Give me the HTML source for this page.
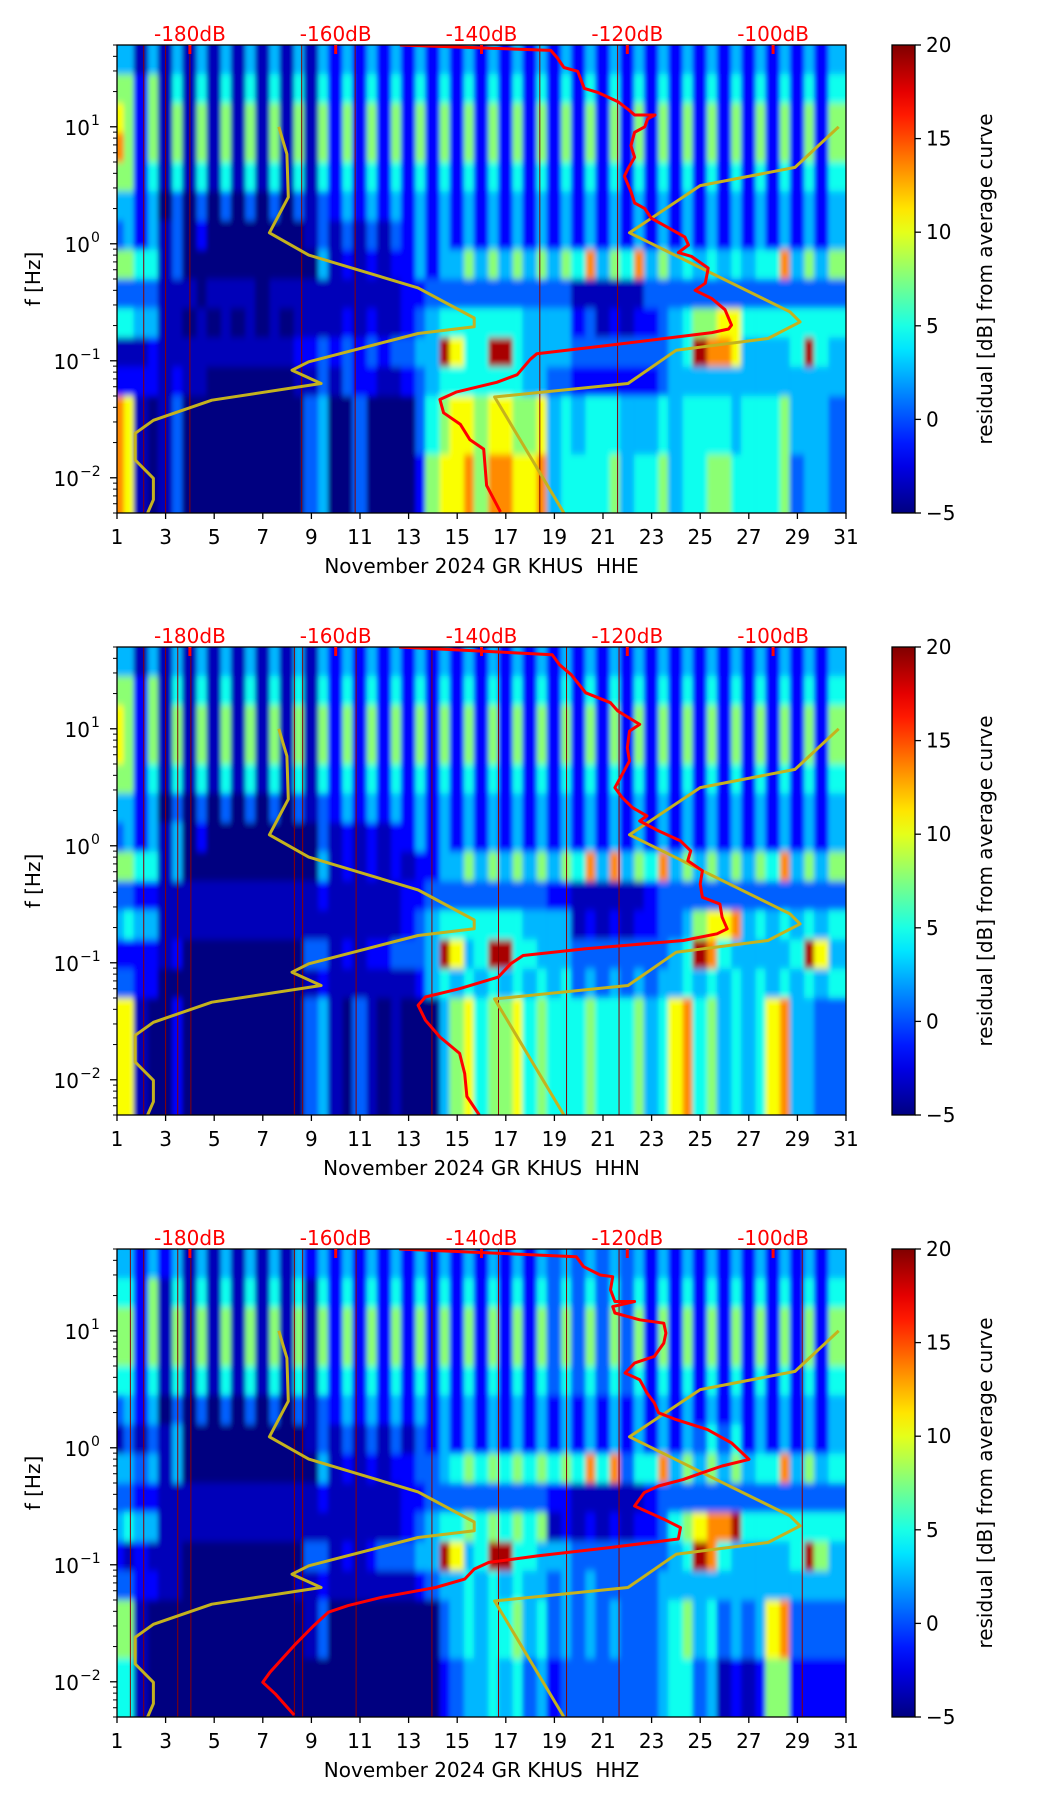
<!DOCTYPE html>
<html><head><meta charset="utf-8"><style>
html,body{margin:0;padding:0;background:#fff;}
svg{display:block;font-family:"DejaVu Sans","Liberation Sans",sans-serif;}
</style></head>
<body>
<svg id="fig" width="1052" height="1806" viewBox="0 0 1052 1806" xmlns="http://www.w3.org/2000/svg">
<defs>
<filter id="soft" x="-5%" y="-5%" width="110%" height="110%"><feGaussianBlur stdDeviation="2 3.5"/></filter>
<linearGradient id="jetgrad" x1="0" y1="1" x2="0" y2="0"></linearGradient>
</defs>
</svg>
<script>
// ---- shared reference curves (Peterson low / high noise model) ----
const nlnmFreq=[10,5.85,2.5,1.24,0.80,0.42,0.232,0.195,0.171,0.098,0.083,0.064,0.046,0.031,0.024,0.0142,0.0099,0.0065,0.005];
const nlnmDb=[-167.8,-166.7,-166.5,-169.1,-163.7,-148.7,-141,-141,-148.7,-163.7,-166,-162,-177,-185,-187.5,-187.5,-185,-185,-185.8];
const nhnmFreq=[10,4.5,3.14,1.24,0.262,0.215,0.155,0.123,0.064,0.049,0.005];
const nhnmDb=[-91,-97,-110,-119.7,-97.7,-96.3,-100.7,-113.3,-119.9,-138.2,-128.7];
// ---- red median PSD per channel ----
const hheFreq=[50,45,38.8,32.1,29.8,21.3,19.7,16.4,14.1,12.6,12.6,11.7,10,8.97,6.89,5.5,4.39,3.78,2.8,2.23,2.0,1.65,1.32,1.14,0.977,0.84,0.78,0.62,0.46,0.40,0.34,0.273,0.202,0.187,0.174,0.134,0.115,0.103,0.076,0.0655,0.0542,0.0467,0.0359,0.0286,0.0212,0.0176,0.0086,0.0051];
const hheDb=[-151.2,-130.5,-129.6,-128.7,-126.8,-125.9,-124.1,-121.3,-119.9,-119,-116.2,-117.2,-117.6,-119,-119.5,-119,-119.9,-120.4,-119.5,-119,-117.6,-116.7,-113.9,-112.1,-111.6,-113,-111.2,-108.9,-109.3,-110.7,-108.4,-106.6,-105.7,-106.1,-108.4,-123.2,-132.4,-133.3,-135.1,-137.9,-143.4,-145.7,-145.2,-142.9,-141.6,-139.7,-139.3,-137.4];
const hhnFreq=[50,43,35.3,29,20.3,16.7,14.2,10.9,9.55,6.89,5.3,4.08,3.14,2.58,2.12,1.8,1.63,1.34,1.10,0.906,0.745,0.612,0.471,0.363,0.318,0.245,0.195,0.177,0.155,0.132,0.1155,0.098,0.0755,0.060,0.051,0.0433,0.0323,0.0232,0.0168,0.0113,0.0072,0.005];
const hhnDb=[-151.3,-130.3,-129.3,-127.7,-125.7,-122.3,-121.3,-118.3,-119.7,-120,-119.7,-120.7,-121.7,-120.7,-119.3,-117.3,-118.3,-115.7,-112.7,-111.3,-111.7,-109.7,-110,-109.7,-107.3,-107,-106.3,-107.7,-112.3,-125.7,-134.3,-136,-137.7,-143,-147.7,-148.7,-147.7,-145.7,-143,-142.3,-142,-140.3];
const hhzFreq=[50,43,35.3,30,29,22.4,17.8,17.8,16.1,14.2,12.4,11.6,9.55,7.85,6.04,5.3,4.36,3.82,2.94,2.42,1.99,1.74,1.43,1.10,0.796,0.698,0.612,0.537,0.471,0.413,0.318,0.279,0.245,0.208,0.166,0.1405,0.119,0.1047,0.0918,0.0755,0.064,0.0527,0.0448,0.0393,0.0302,0.0204,0.0121,0.0099,0.0079,0.0052];
const hhzDb=[-151.3,-127,-126,-123.7,-122,-122.3,-121.7,-119,-122,-121.7,-118.3,-115,-114.7,-115,-116.3,-119,-120.3,-118.3,-117.3,-116.3,-115.7,-113.3,-109,-105.7,-103.3,-107,-109.7,-112.3,-115.7,-117.7,-119,-117,-115,-112.7,-113,-122.3,-132.3,-139,-141,-142.3,-146.3,-153.7,-158.3,-161,-163,-165.7,-169,-170,-168.3,-165.7];
// ---- data-gap days (thin dark red lines) ----
const gapsHHE=[2.1,3.0,4.0,8.6,10.8,18.4,21.6];
const gapsHHN=[2.1,3.0,3.5,4.04,8.3,8.64,10.84,13.96,16.7,19.5,21.66];
const gapsHHZ=[1.55,2.1,3.5,4.04,8.3,8.64,10.84,13.96,16.7,19.5,21.66,29.2];
// ---- residual heatmaps: 16 quarter-decade bands (50 Hz -> 0.005 Hz), 60 columns (night, day per date); digit = level 0..9 ----
const hmHHE=[
"44 14 14 14 14 14 14 14 14 24 24 24 24 24 24 24 24 24 24 24 24 24 24 24 24 24 24 24 24 24",
"66 26 15 15 15 15 15 15 15 25 25 25 25 25 25 25 25 25 25 25 25 25 25 25 25 25 25 25 25 25",
"76 26 16 16 16 16 16 16 16 26 26 26 26 26 26 26 26 26 26 26 26 26 26 26 26 26 26 26 26 26",
"86 26 16 16 16 16 16 16 16 26 26 26 26 26 26 26 26 26 26 26 26 26 26 26 26 26 26 26 26 26",
"66 25 15 15 15 15 15 15 15 25 25 25 25 25 25 25 25 25 25 25 25 25 25 25 25 25 25 25 25 25",
"44 24 03 03 03 03 03 03 13 24 24 24 24 24 24 24 24 24 24 24 24 24 24 24 24 24 24 24 24 24",
"34 24 13 02 00 00 00 00 13 13 13 13 24 24 24 24 24 24 24 24 24 24 24 24 24 24 24 24 24 24",
"66 55 13 00 00 00 00 00 04 12 12 12 24 24 46 46 46 46 46 58 46 58 46 45 45 45 45 58 46 46",
"33 33 11 10 11 11 01 11 11 11 11 11 22 33 33 33 33 33 33 11 11 11 33 33 33 33 33 33 33 33",
"55 44 11 01 01 01 01 01 11 12 12 11 23 45 55 55 55 44 44 23 12 12 23 45 66 77 55 55 55 55",
"11 12 11 11 11 11 11 12 23 23 23 23 34 49 75 59 95 44 44 33 33 33 33 45 98 87 44 44 59 54",
"22 22 12 11 00 00 00 01 13 13 22 11 23 45 55 55 55 44 33 22 22 22 23 44 44 44 44 44 44 44",
"87 10 13 00 00 00 00 00 34 00 30 00 03 56 77 67 76 67 45 45 55 44 45 45 55 54 55 56 44 43",
"87 10 13 00 00 00 00 00 34 00 30 00 03 56 77 67 76 67 45 45 55 44 45 45 55 54 55 56 44 43",
"87 10 13 00 00 00 00 00 34 00 30 00 02 67 78 68 87 78 45 55 56 45 56 45 56 65 55 56 34 43",
"87 10 13 00 00 00 00 00 34 00 30 00 02 67 78 68 87 78 45 55 56 45 56 45 56 65 55 56 34 43"];
const hmHHN=[
"44 14 14 14 14 14 14 14 14 24 24 24 24 24 24 24 24 24 24 24 24 24 24 24 24 24 24 24 24 24",
"66 26 15 15 15 15 15 15 15 25 25 25 25 25 25 25 25 25 25 25 25 25 25 25 25 25 25 25 25 25",
"76 26 16 16 16 16 16 16 16 26 26 26 26 26 26 26 26 26 26 26 26 26 26 26 26 26 26 26 26 26",
"76 26 16 16 16 16 16 16 16 26 26 26 26 26 26 26 26 26 26 26 26 26 26 26 26 26 26 26 26 26",
"66 25 15 15 15 15 15 15 15 25 25 25 25 25 25 25 25 25 25 25 25 25 25 25 25 25 25 25 25 25",
"44 24 03 03 03 03 03 03 13 24 24 24 24 24 24 24 24 24 24 24 24 24 24 24 24 24 24 24 24 24",
"34 24 14 02 00 00 00 00 03 12 12 12 24 24 24 24 24 24 24 24 24 24 24 24 24 24 24 24 24 24",
"66 55 14 00 00 00 00 00 04 12 12 12 12 24 46 46 46 46 46 58 48 46 58 46 46 46 46 58 46 46",
"33 22 11 11 11 11 11 11 12 11 11 11 22 33 33 33 33 33 22 11 11 11 23 33 33 33 33 33 33 33",
"45 44 11 11 11 11 11 11 11 11 11 11 23 45 55 55 55 44 44 12 12 12 23 34 67 78 45 45 45 45",
"22 22 12 00 00 00 00 00 33 12 12 23 33 49 74 59 95 54 44 33 33 33 33 45 98 54 44 44 59 74",
"33 22 00 00 00 00 00 00 12 11 11 11 12 45 45 45 45 45 45 34 34 34 34 45 45 45 45 45 45 45",
"77 10 02 00 00 00 00 00 34 10 31 01 00 04 67 56 67 56 55 56 55 56 45 78 56 45 45 78 44 33",
"77 10 02 00 00 00 00 00 34 10 31 01 00 04 67 56 67 56 55 56 55 56 45 78 56 45 45 78 44 33",
"77 10 02 00 00 00 00 00 34 10 31 01 00 04 67 56 67 56 55 56 55 56 45 78 56 45 45 78 44 33",
"77 10 02 00 00 00 00 00 34 10 31 01 00 04 67 56 67 56 55 56 55 56 45 78 56 45 45 78 44 33"];
const hmHHZ=[
"44 24 24 14 14 14 14 14 24 24 24 24 24 24 24 24 24 24 34 34 34 34 24 24 24 24 24 24 24 24",
"55 26 15 15 15 15 15 15 15 25 25 25 25 25 25 25 25 25 35 35 35 35 25 25 25 25 25 25 25 25",
"66 26 16 16 16 16 16 16 16 26 26 26 26 26 26 26 26 26 36 36 36 36 26 26 26 26 26 26 26 26",
"66 26 16 16 16 16 16 16 16 26 26 26 26 26 26 26 26 26 36 36 36 36 26 26 26 26 26 26 26 26",
"55 25 15 15 15 15 15 15 15 25 25 25 25 25 25 25 25 25 35 35 35 35 25 25 25 25 25 25 25 25",
"34 24 03 03 03 03 03 03 13 24 24 24 24 24 24 24 24 24 24 24 24 24 24 24 24 24 24 24 24 24",
"13 13 14 00 00 00 00 00 13 13 13 13 13 24 24 24 24 24 24 24 24 24 24 24 35 35 24 24 24 24",
"44 34 14 00 00 00 00 00 04 12 12 12 23 34 56 56 56 56 56 58 58 35 58 46 46 46 45 58 46 45",
"33 22 11 11 11 11 11 11 12 11 11 11 22 33 33 33 33 33 22 11 11 11 23 33 33 33 33 33 33 33",
"45 44 11 11 11 11 11 11 11 11 11 11 23 45 56 56 56 56 12 12 12 12 23 56 78 89 55 55 55 55",
"21 21 11 00 00 00 00 00 33 12 12 33 34 49 74 59 95 54 44 33 33 33 33 45 98 54 44 44 59 64",
"33 22 11 00 00 00 00 01 12 11 11 11 12 34 45 45 45 44 34 34 33 33 34 44 44 44 44 44 44 44",
"66 10 00 00 00 00 00 00 13 00 00 00 00 03 45 45 56 45 34 34 34 33 34 56 45 34 34 78 33 33",
"66 10 00 00 00 00 00 00 13 00 00 00 00 03 45 45 56 45 34 34 34 33 34 56 45 34 34 78 33 33",
"55 10 00 00 00 00 00 00 00 00 00 00 00 02 34 45 45 34 23 33 33 33 34 55 34 12 12 66 22 22",
"55 10 00 00 00 00 00 00 00 00 00 00 00 02 34 45 45 34 23 33 33 33 34 55 34 12 12 66 22 22"];
const levelValues=[-5,-3.6,-1.8,0.5,2.6,4.8,7.8,10.5,13.5,19];
const channels=["HHE","HHN","HHZ"];
const dbTicks=[-180,-160,-140,-120,-100];
const dayTicks=[1,3,5,7,9,11,13,15,17,19,21,23,25,27,29,31];
const cbTicks=[20,15,10,5,0,-5];
const freqDecades=[1,0,-1,-2];

const NS="http://www.w3.org/2000/svg";
const svg=document.getElementById("fig");
const PL=117,PR=846,PH=468,PANEL_GAP=602,FTOP=50,FBOT=0.005;
function xDay(d){return PL+(d-1)*(PR-PL)/30;}
function yFreq(f,top){return top+(Math.log10(FTOP)-Math.log10(f))*PH/(Math.log10(FTOP)-Math.log10(FBOT));}
function xDb(db){return xDay(4+(db+180)*6/20);}
function jet(v){const t=Math.max(0,Math.min(1,(v+5)/25));const c=x=>Math.round(255*Math.max(0,Math.min(1,1.5-Math.abs(x))));return "rgb("+c(4*t-3)+","+c(4*t-2)+","+c(4*t-1)+")";}
function mk(tag,attrs,parent){const e=document.createElementNS(NS,tag);for(const k in attrs)e.setAttribute(k,attrs[k]);(parent||svg).appendChild(e);return e;}

const grad=document.getElementById("jetgrad");
for(let i=0;i<=20;i++){const s=document.createElementNS(NS,"stop");s.setAttribute("offset",(i/20));s.setAttribute("stop-color",jet(-5+25*i/20));grad.appendChild(s);}

const heat=[hmHHE,hmHHN,hmHHZ];
const reds=[[hheFreq,hheDb],[hhnFreq,hhnDb],[hhzFreq,hhzDb]];
const gaps=[gapsHHE,gapsHHN,gapsHHZ];

for(let p=0;p<3;p++){
  const top=45+PANEL_GAP*p, bot=top+PH;
  const g=mk("g",{});
  
  
  const cp=mk("clipPath",{id:"clip"+p},svg.querySelector("defs"));
  mk("rect",{x:PL,y:top,width:PR-PL,height:PH},cp);
  const plot=mk("g",{"clip-path":"url(#clip"+p+")"},g);
  
  
  mk("rect",{x:PL,y:top,width:PR-PL,height:PH,fill:jet(-5)},plot);
  const cells=mk("g",{filter:"url(#soft)"},plot);
  const rows=heat[p];
  for(let r=0;r<rows.length;r++){
    const s=rows[r].replace(/ /g,"");
    const f0=FTOP*Math.pow(10,-r/4), f1=FTOP*Math.pow(10,-(r+1)/4);
    for(let k=0;k<s.length;k++){
      const n=Math.floor(k/2)+1;
      let d0,d1;
      if(k%2===0){d0=n-0.32;d1=n+0.28;}else{d0=n+0.28;d1=n+0.68;}
      if(k===s.length-1)d1=31.3; if(d0<1)d0=0.6;
      const lv=+s[k];
      const c=mk("rect",{x:xDay(d0),y:yFreq(f0,top)-(r===0?6:0),width:xDay(d1)-xDay(d0)+0.3,height:yFreq(f1,top)-yFreq(f0,top)+0.3+(r===15||r===0?6:0),fill:jet(levelValues[lv])},cells);
      
      
    }
  }
  for(const d of gaps[p]){
    const l=mk("line",{x1:xDay(d),x2:xDay(d),y1:top,y2:bot,stroke:"#8a0000","stroke-width":1},plot);
    
    
  }
  const mkLine=(fs,dbs,color,w,name)=>{
    const pts=fs.map((f,i)=>xDb(dbs[i]).toFixed(1)+","+yFreq(f,top).toFixed(1)).join(" ");
    const pl=mk("polyline",{points:pts,fill:"none",stroke:color,"stroke-width":w,"stroke-linejoin":"round"},plot);
    
    
  };
  mkLine(nlnmFreq,nlnmDb,"#c4b21e",3,"low-noise-model-line");
  mkLine(nhnmFreq,nhnmDb,"#c4b21e",3,"high-noise-model-line");
  mkLine(reds[p][0],reds[p][1],"#ff0000",3,"median-psd-line");
  const fr=mk("rect",{x:PL,y:top,width:PR-PL,height:PH,fill:"none",stroke:"#000","stroke-width":1.3},g);
  
  
  for(const db of dbTicks){
    const x=xDb(db);
    const t=mk("rect",{x:x-1.5,y:top,width:3,height:9,fill:"#ff0000"},g);
    
    
    const tx=mk("text",{x:x,y:top-4,"text-anchor":"middle","font-size":20,fill:"#ff0000"},g);
    tx.textContent=db+"dB";
    
    
  }
  for(const d of dayTicks){
    const x=xDay(d);
    mk("line",{x1:x,x2:x,y1:bot,y2:bot+6,stroke:"#000","stroke-width":1.3},g);
    const tx=mk("text",{x:x,y:bot+31,"text-anchor":"middle","font-size":20,fill:"#000"},g);
    tx.textContent=d;
    
    
  }
  const xl=mk("text",{x:(PL+PR)/2,y:bot+60,"text-anchor":"middle","font-size":20,fill:"#000"},g);
  xl.textContent="November 2024 GR KHUS\u00a0\u00a0"+channels[p];
  
  
  for(let e=-3;e<=1;e++){
    for(let m=1;m<=9;m++){
      const f=m*Math.pow(10,e); if(f<FBOT||f>FTOP)continue;
      const y=yFreq(f,top);
      mk("line",{x1:PL-(m===1?7:4),x2:PL,y1:y,y2:y,stroke:"#000","stroke-width":m===1?1.3:1},g);
    }
  }
  for(const e of freqDecades){
    const y=yFreq(Math.pow(10,e),top);
    const tx=mk("text",{x:e<0?79:90,y:y+8,"text-anchor":"end","font-size":20,fill:"#000"},g);
    tx.textContent="10";
    
    
    const sp=mk("text",{x:e<0?80:91,y:y-2,"text-anchor":"start","font-size":14,fill:"#000"},g);
    sp.textContent=(e<0?"\u2212":"")+Math.abs(e);
  }
  const yl=mk("text",{x:0,y:0,transform:"translate(40,"+(top+PH/2)+") rotate(-90)","text-anchor":"middle","font-size":20,fill:"#000"},g);
  yl.textContent="f [Hz]";
  
  
  const cb=mk("rect",{x:892,y:top,width:23,height:PH,fill:"url(#jetgrad)",stroke:"#000","stroke-width":1.3},g);
  
  
  for(const v of cbTicks){
    const y=top+(20-v)/25*PH;
    mk("line",{x1:915,x2:921,y1:y,y2:y,stroke:"#000","stroke-width":1.3},g);
    const tx=mk("text",{x:926,y:y+7,"font-size":20,fill:"#000"},g);
    tx.textContent=v<0?"\u2212"+Math.abs(v):v;
    
    
  }
  const cl=mk("text",{x:0,y:0,transform:"translate(992,"+(top+PH/2)+") rotate(-90)","text-anchor":"middle","font-size":20,fill:"#000"},g);
  cl.textContent="residual [dB] from average curve";
  
  
}
</script>
</body></html>
